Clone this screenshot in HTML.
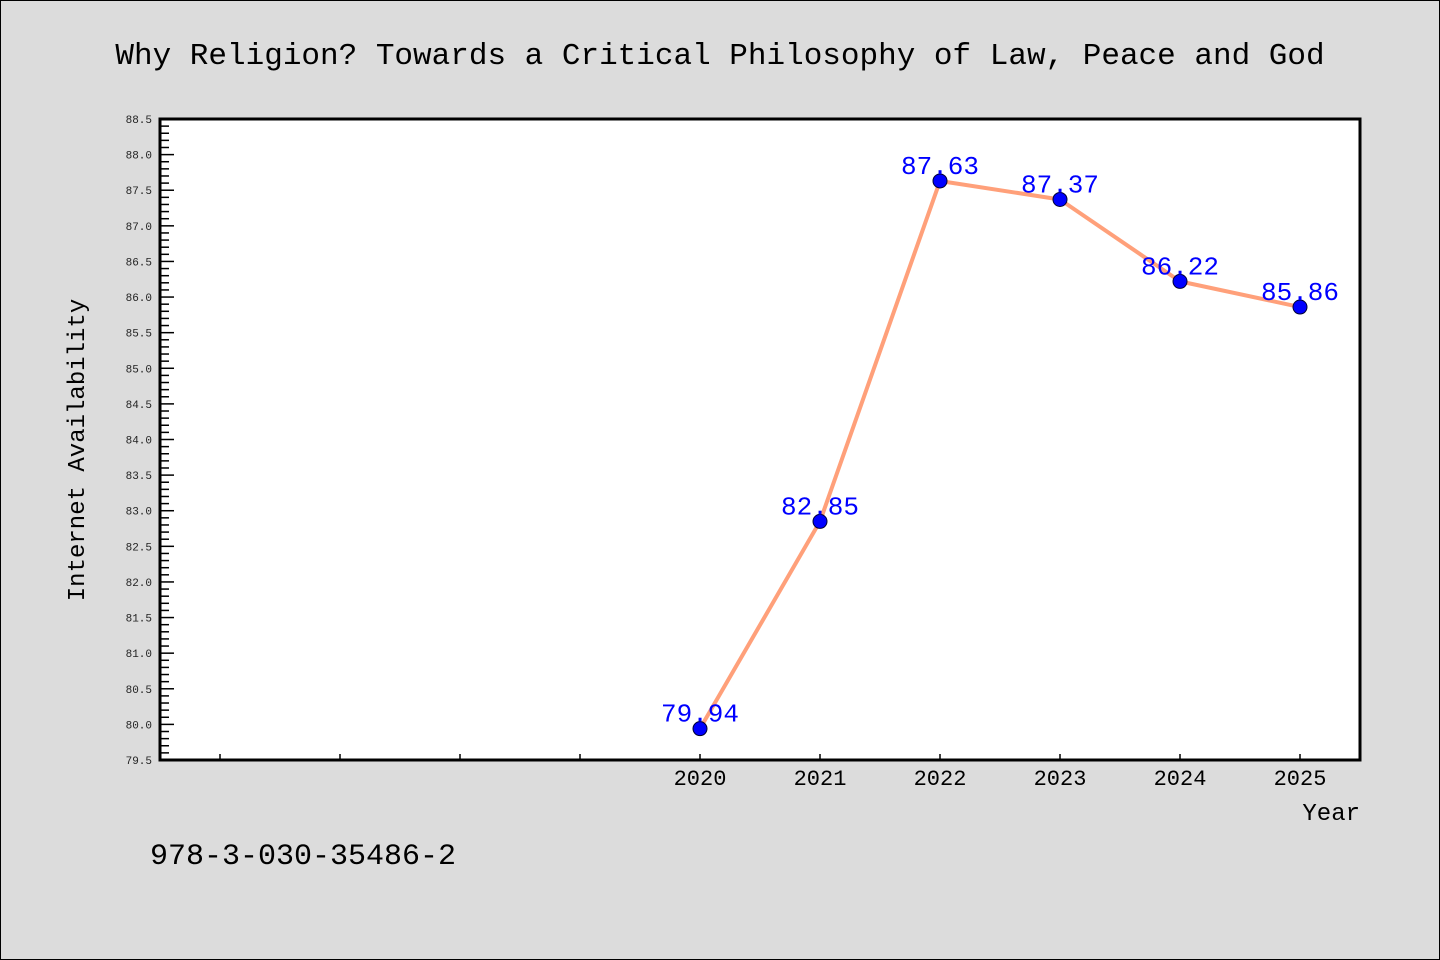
<!DOCTYPE html>
<html><head><meta charset="utf-8"><style>
html,body{margin:0;padding:0;background:#dcdcdc;}
svg{display:block;}
text{font-family:"Liberation Mono","DejaVu Sans Mono",monospace;}
</style></head><body>
<svg width="1440" height="960" xmlns="http://www.w3.org/2000/svg">
<rect x="0.5" y="0.5" width="1439" height="959" fill="#dcdcdc" stroke="#000" stroke-width="1"/>
<text x="720" y="64" text-anchor="middle" font-size="31" fill="#000">Why Religion? Towards a Critical Philosophy of Law, Peace and God</text>
<rect x="160" y="119" width="1200" height="641" fill="#fff"/>
<g id="yticks"></g>
<g id="xticks"></g>
<g id="series"></g>
<rect x="160" y="119" width="1200" height="641" fill="none" stroke="#000" stroke-width="3"/>
<text transform="translate(84,450) rotate(-90)" text-anchor="middle" font-size="24" fill="#000">Internet Availability</text>
<text x="1360" y="820" text-anchor="end" font-size="24" fill="#000">Year</text>
<text x="150" y="864" font-size="30" fill="#000">978-3-030-35486-2</text>
</svg>
<script>
const years = [2020, 2021, 2022, 2023, 2024, 2025];
const values = [79.94, 82.85, 87.63, 87.37, 86.22, 85.86];
const valueLabels = ["79.94", "82.85", "87.63", "87.37", "86.22", "85.86"];
const xTickYears = [2016, 2017, 2018, 2019, 2020, 2021, 2022, 2023, 2024, 2025];
const xTickLabels = ["", "", "", "", "2020", "2021", "2022", "2023", "2024", "2025"];
const yMin = 79.5, yMax = 88.5, xMin = 2015.5, xMax = 2025.5;
const L = 160, R = 1360, T = 119, B = 760;
const NS = "http://www.w3.org/2000/svg";
function X(v){return L + (v - xMin) / (xMax - xMin) * (R - L);}
function Y(v){return B - (v - yMin) / (yMax - yMin) * (B - T);}
function mk(tag, attrs, parent){const e=document.createElementNS(NS,tag);for(const k in attrs)e.setAttribute(k,attrs[k]);parent.appendChild(e);return e;}
const yg = document.getElementById('yticks');
for (let i = 0; i <= 90; i++) {
  const v = yMin + i * 0.1;
  const major = i % 5 === 0;
  const t = mk('line', {x1:L, x2:L + (major ? 14 : 9), y1:Y(v), y2:Y(v), stroke:'#000', 'stroke-width':1.5}, yg);
  
  
  if (major) {
    const tx = mk('text', {x:152, y:Y(v)+4, 'text-anchor':'end', 'font-size':11, fill:'#222', 'font-family':'DejaVu Sans, sans-serif'}, yg);
    tx.textContent = v.toFixed(1);
    
    
  }
}
const xg = document.getElementById('xticks');
xTickYears.forEach((yr, i) => {
  const t = mk('line', {x1:X(yr), x2:X(yr), y1:B, y2:B-6, stroke:'#000', 'stroke-width':1.5}, xg);
  
  
  if (xTickLabels[i]) {
    const tx = mk('text', {x:X(yr), y:785, 'text-anchor':'middle', 'font-size':22, fill:'#000', 'font-family':'DejaVu Sans, sans-serif'}, xg);
    tx.textContent = xTickLabels[i];
    
    
  }
});
const sg = document.getElementById('series');
const pts = years.map((y, i) => X(y) + ',' + Y(values[i])).join(' ');
const pl = mk('polyline', {points:pts, fill:'none', stroke:'#FFA07A', 'stroke-width':4, 'stroke-linejoin':'round'}, sg);


years.forEach((y, i) => {
  const c = mk('circle', {cx:X(y), cy:Y(values[i]), r:7, fill:'#0000ff', stroke:'#000033', 'stroke-width':1}, sg);
  
  
  const tx = mk('text', {x:X(y), y:Y(values[i]) - 7, 'text-anchor':'middle', 'font-size':26, fill:'#0000ff', 'font-family':'DejaVu Sans, sans-serif'}, sg);
  tx.textContent = valueLabels[i];
  
  
});
</script>
</body></html>
